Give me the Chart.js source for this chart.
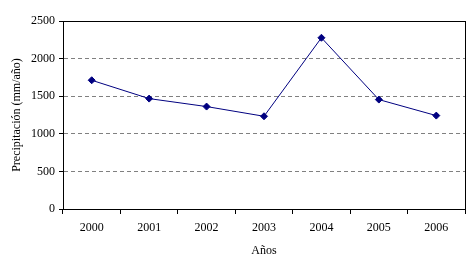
<!DOCTYPE html>
<html>
<head>
<meta charset="utf-8">
<script src="https://cdn.jsdelivr.net/npm/chart.js@4"></script>
<style>
  html, body { margin: 0; padding: 0; background: #fff; }
  #wrap { width: 474px; height: 266px; }
</style>
</head>
<body>
<div id="wrap"><canvas id="rainChart" width="474" height="266"></canvas></div>
<script>
const years = ['2000', '2001', '2002', '2003', '2004', '2005', '2006'];
const precipitation = [1712, 1468, 1362, 1233, 2277, 1455, 1242];
const yTicks = [0, 500, 1000, 1500, 2000, 2500];

const serif = 'Liberation Serif, Times New Roman, serif';

// black frame round the plot area
const plotFrame = {
    id: 'plotFrame',
    afterDatasetsDraw(chart) {
        const a = chart.chartArea;
        const ctx = chart.ctx;
        ctx.save();
        ctx.strokeStyle = '#000';
        ctx.lineWidth = 1;
        ctx.strokeRect(Math.round(a.left) + 0.5, Math.round(a.top) + 0.5,
            Math.round(a.right - a.left), Math.round(a.bottom - a.top));
        ctx.restore();
    }
};

const ctx = document.getElementById('rainChart').getContext('2d');
new Chart(ctx, {
    type: 'line',
    data: {
        labels: years,
        datasets: [{
            data: precipitation,
            borderColor: '#000080',
            backgroundColor: '#000080',
            borderWidth: 1,
            pointStyle: 'rectRot',
            pointRadius: 3.5,
            pointBorderWidth: 1,
            tension: 0
        }]
    },
    options: {
        responsive: false,
        animation: false,
        layout: { padding: { left: 6, top: 21, right: 9, bottom: 4 } },
        plugins: { legend: { display: false }, tooltip: { enabled: false } },
        scales: {
            x: {
                offset: true,
                grid: { drawOnChartArea: false, tickLength: 5, tickColor: '#000', offset: true },
                border: { color: '#000' },
                ticks: { color: '#000', font: { family: serif, size: 12 }, padding: 7 },
                title: { display: true, text: 'Años', color: '#000', font: { family: serif, size: 12 }, padding: { top: 2, bottom: 4 } },
                afterFit(scale) { scale.height = 53; }
            },
            y: {
                min: 0,
                max: 2500,
                afterBuildTicks(scale) { scale.ticks = yTicks.map(v => ({ value: v })); },
                grid: {
                    color(c) { return (c.tick && (c.tick.value === 0 || c.tick.value === 2500)) ? 'rgba(0,0,0,0)' : '#808080'; },
                    tickColor: '#000',
                    tickLength: 4
                },
                border: { color: '#000', dash: [4, 3] },
                ticks: { color: '#000', font: { family: serif, size: 12 }, padding: 4, callback: v => String(v) },
                title: { display: true, text: 'Precipitación (mm/año)', color: '#000', font: { family: serif, size: 12 }, padding: { bottom: 4 } },
                afterFit(scale) { scale.width = 57; }
            }
        }
    },
    plugins: [plotFrame]
});
</script>
</body>
</html>
